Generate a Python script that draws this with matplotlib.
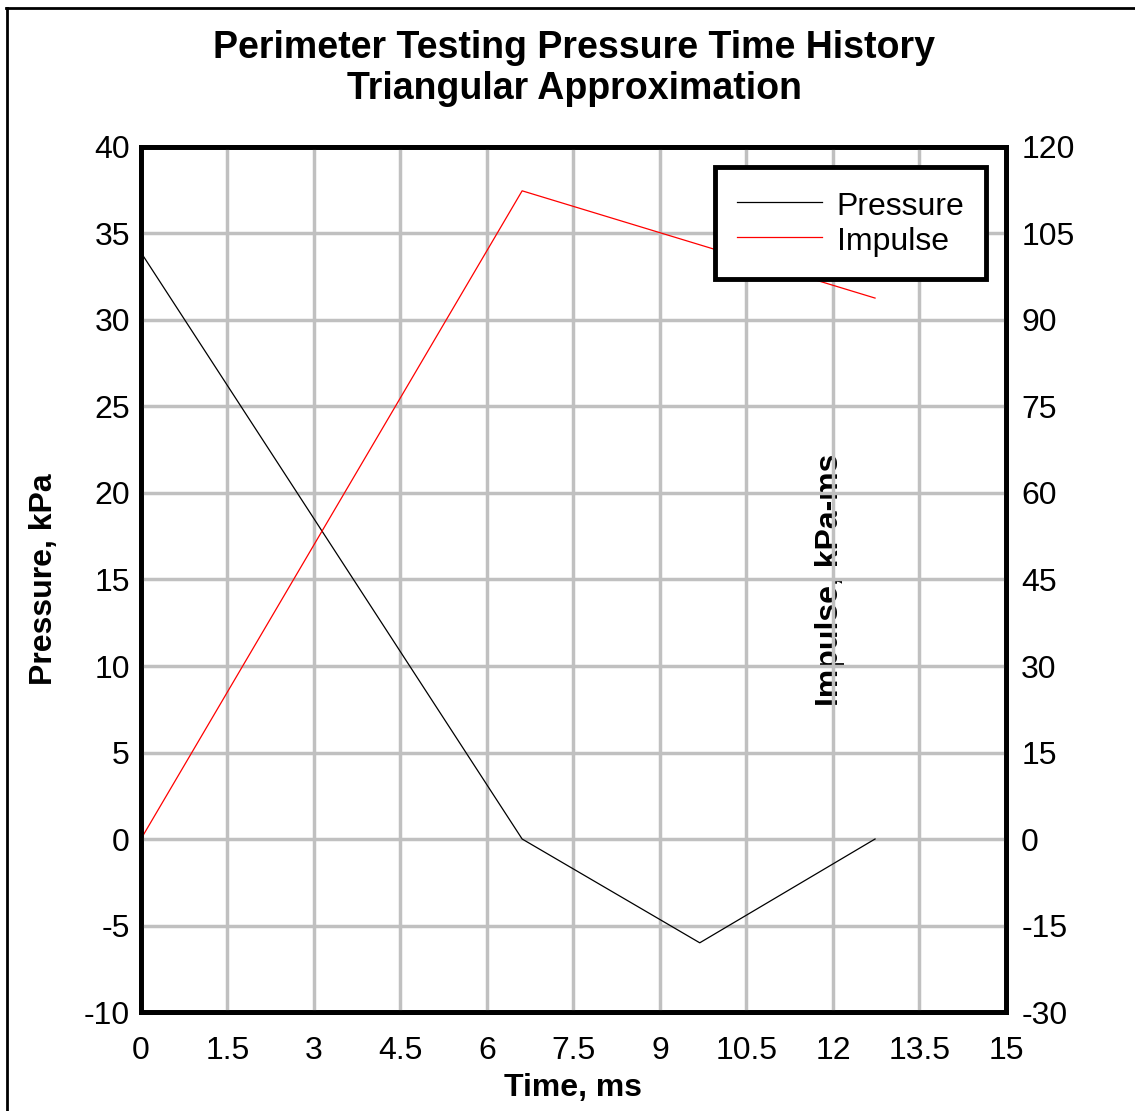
import matplotlib
matplotlib.use("Agg")
import matplotlib.pyplot as plt
from matplotlib.lines import Line2D

plt.rcParams['font.family'] = ['Liberation Sans', 'DejaVu Sans']
plt.rcParams['axes.unicode_minus'] = False

time_p = [0.0, 6.61, 9.69, 12.73]
pressure = [33.9, 0.0, -6.0, 0.0]
time_i = [0.0, 6.61, 12.73]
impulse = [0.0, 112.4, 93.8]

x_ticks = [0, 1.5, 3, 4.5, 6, 7.5, 9, 10.5, 12, 13.5, 15]
x_tick_labels = ["0", "1.5", "3", "4.5", "6", "7.5", "9", "10.5", "12", "13.5", "15"]
y_ticks = [-10, -5, 0, 5, 10, 15, 20, 25, 30, 35, 40]
y2_ticks = [-30, -15, 0, 15, 30, 45, 60, 75, 90, 105, 120]

fig = plt.figure(figsize=(11.35, 11.11), dpi=100)
ax = fig.add_axes([0.1242, 0.0891, 0.7621, 0.7786])
ax2 = ax.twinx()

ax.set_xlim(0, 15)
ax.set_ylim(-10, 40)
ax2.set_ylim(-30, 120)
ax.set_xticks(x_ticks)
ax.set_xticklabels(x_tick_labels)
ax.set_yticks(y_ticks)
ax2.set_yticks(y2_ticks)

ax.grid(True, color='#c0c0c0', linewidth=2.5)
ax.set_axisbelow(False)

l1, = ax.plot(time_p, pressure, color='black', linewidth=0.9, zorder=3)
l2, = ax2.plot(time_i, impulse, color='red', linewidth=0.9)

for a in (ax, ax2):
    a.tick_params(length=0, labelsize=23)
    for s in a.spines.values():
        s.set_linewidth(3.5)
        s.set_color('black')
ax.tick_params(axis='x', pad=17)
ax.tick_params(axis='y', pad=8)
ax2.tick_params(axis='y', pad=11)

ax.set_xlabel("Time, ms", fontsize=23, fontweight='bold', labelpad=5)
ax.set_ylabel("Pressure, kPa", fontsize=23, fontweight='bold', labelpad=18)
ax.text(11.95, 15, "Impulse, kPa-ms", rotation=90, fontsize=23, fontweight='bold',
        ha='center', va='center', zorder=1)

fig.suptitle("Perimeter Testing Pressure Time History\nTriangular Approximation",
             fontsize=27, fontweight='bold', x=0.506, y=0.973, va='top', linespacing=1.18)

leg = ax2.legend([l1, l2], ["Pressure", "Impulse"], loc='upper right',
                 bbox_to_anchor=(0.977, 0.977), borderaxespad=0, fontsize=23,
                 fancybox=False, framealpha=1, edgecolor='black',
                 handlelength=2.65, handleheight=1.125, handletextpad=0.47,
                 borderpad=0.68, labelspacing=0.06)
leg.get_frame().set_linewidth(3.5)

fig.add_artist(Line2D([0.0062, 0.0062], [0.0, 0.9928], color='black', linewidth=2, transform=fig.transFigure))
fig.add_artist(Line2D([0.0053, 1.0], [0.9928, 0.9928], color='black', linewidth=2, transform=fig.transFigure))

fig.savefig("out.png", dpi=100)
